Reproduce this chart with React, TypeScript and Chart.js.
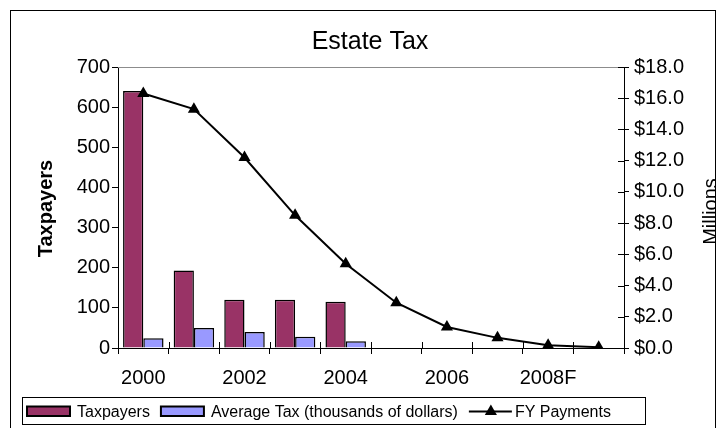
import React, { useEffect, useRef } from "react";
import { Chart, registerables } from "chart.js";

Chart.register(...registerables);

const categories = ["2000", "2001", "2002", "2003", "2004", "2005", "2006", "2007", "2008F", "2009F"];
const taxpayers = [640, 193, 120, 120, 115, null, null, null, null, null];
const averageTax = [24, 50, 40, 28, 17, null, null, null, null, null];
const fyPayments = [16.3, 15.3, 12.2, 8.5, 5.4, 2.9, 1.35, 0.65, 0.18, 0.05];
const leftTicks = { min: 0, max: 700, step: 100 };
const rightTicks = { min: 0, max: 18, step: 2 };

const FONT = "'Liberation Sans', Arial, sans-serif";

const decorPlugin = {
  id: "decor",
  beforeDraw(chart: any) {
    const ctx = chart.ctx;
    ctx.save();
    ctx.fillStyle = "#ffffff";
    ctx.fillRect(0, 0, chart.width, chart.height);
    ctx.restore();
  },
  afterDraw(chart: any) {
    const ctx = chart.ctx;
    const area = chart.chartArea;
    const x = chart.scales.x;
    const y1 = chart.scales.y1;
    ctx.save();
    // outer border
    ctx.strokeStyle = "#000";
    ctx.lineWidth = 1;
    ctx.strokeRect(10.5, 10.5, 705, 440);
    // plot top border
    ctx.strokeStyle = "#8c8c8c";
    ctx.beginPath();
    ctx.moveTo(area.left, area.top + 0.5);
    ctx.lineTo(area.right, area.top + 0.5);
    ctx.stroke();
    // inner ticks on right axis
    ctx.strokeStyle = "#000";
    ctx.lineWidth = 1;
    y1.ticks.forEach((t: any) => {
      const py = Math.round(y1.getPixelForValue(t.value)) + 0.5;
      ctx.beginPath();
      ctx.moveTo(area.right - 6, py);
      ctx.lineTo(area.right, py);
      ctx.stroke();
    });
    // inner ticks on x axis (category boundaries)
    const n = categories.length;
    const half = (x.getPixelForValue(1) - x.getPixelForValue(0)) / 2;
    for (let i = 0; i <= n; i++) {
      const px = Math.round(i < n ? x.getPixelForValue(i) - half : x.getPixelForValue(n - 1) + half) + 0.5;
      ctx.beginPath();
      ctx.moveTo(px, area.bottom - 6);
      ctx.lineTo(px, area.bottom);
      ctx.stroke();
    }
    // title
    ctx.fillStyle = "#000";
    ctx.font = `25px ${FONT}`;
    ctx.textAlign = "center";
    ctx.textBaseline = "alphabetic";
    ctx.fillText("Estate Tax", 370, 48.5);
    // left axis title
    ctx.save();
    ctx.translate(52, 208.5);
    ctx.rotate(-Math.PI / 2);
    ctx.font = `bold 20px ${FONT}`;
    ctx.fillText("Taxpayers", 0, 0);
    ctx.restore();
    // right axis title
    ctx.save();
    ctx.translate(716.5, 211.5);
    ctx.rotate(-Math.PI / 2);
    ctx.font = `20px ${FONT}`;
    ctx.fillText("Millions", 0, 0);
    ctx.restore();
    // legend
    ctx.strokeStyle = "#000";
    ctx.lineWidth = 1;
    ctx.strokeRect(22.5, 397.5, 623, 27);
    ctx.font = `16px ${FONT}`;
    ctx.textAlign = "left";
    const ds = chart.data.datasets;
    let cx = 27;
    const cy = 411.5;
    ds.forEach((d: any) => {
      if (d.type === "line") {
        ctx.strokeStyle = "#000";
        ctx.lineWidth = 2;
        ctx.beginPath();
        ctx.moveTo(cx, cy);
        ctx.lineTo(cx + 43, cy);
        ctx.stroke();
        const r = 7;
        const tx = cx + 22;
        ctx.fillStyle = "#000";
        ctx.beginPath();
        ctx.moveTo(tx, cy - r);
        ctx.lineTo(tx + r * 0.866, cy + r / 2);
        ctx.lineTo(tx - r * 0.866, cy + r / 2);
        ctx.closePath();
        ctx.fill();
        cx += 46;
      } else {
        ctx.fillStyle = d.backgroundColor;
        ctx.fillRect(cx, 406.5, 43, 9.5);
        ctx.strokeStyle = "#000";
        ctx.lineWidth = 2;
        ctx.strokeRect(cx, 406.5, 43, 9.5);
        cx += 50;
      }
      ctx.fillStyle = "#000";
      ctx.fillText(d.label, cx, 417);
      cx += ctx.measureText(d.label).width + 11;
    });
    ctx.restore();
  },
};

export default function App() {
  const ref = useRef<HTMLCanvasElement | null>(null);
  useEffect(() => {
    if (!ref.current) return;
    const chart = new Chart(ref.current, {
      type: "bar",
      data: {
        labels: categories,
        datasets: [
          {
            type: "bar",
            label: "Taxpayers",
            data: taxpayers,
            backgroundColor: "#993366",
            borderColor: "#000",
            borderWidth: 1.5,
            yAxisID: "y",
            order: 1,
            categoryPercentage: 0.8,
            barPercentage: 1.0,
          },
          {
            type: "bar",
            label: "Average Tax (thousands of dollars)",
            data: averageTax,
            backgroundColor: "#9999FF",
            borderColor: "#000",
            borderWidth: 1.5,
            yAxisID: "y",
            order: 1,
            categoryPercentage: 0.8,
            barPercentage: 1.0,
          },
          {
            type: "line",
            label: "FY Payments",
            data: fyPayments,
            borderColor: "#000",
            borderWidth: 2,
            backgroundColor: "#000",
            pointStyle: "triangle",
            pointRadius: 7,
            pointBackgroundColor: "#000",
            pointBorderColor: "#000",
            pointBorderWidth: 0,
            tension: 0,
            yAxisID: "y1",
            order: 0,
          },
        ] as any,
      },
      options: {
        responsive: false,
        maintainAspectRatio: false,
        animation: false,
        layout: { padding: { left: 10, right: 0, top: 67, bottom: 0 } },
        plugins: { legend: { display: false }, title: { display: false }, tooltip: { enabled: false } },
        scales: {
          x: {
            offset: true,
            grid: { offset: true, drawOnChartArea: false, tickLength: 6, color: "#000", lineWidth: 1 },
            border: { color: "#000", width: 1 },
            ticks: {
              autoSkip: false,
              maxRotation: 0,
              color: "#000",
              padding: 12,
              font: { family: FONT, size: 20 },
              callback: (_v: any, i: number) => (i % 2 === 0 ? categories[i] : ""),
            },
            afterFit: (s: any) => { s.height = 80; },
          },
          y: {
            position: "left",
            min: leftTicks.min,
            max: leftTicks.max,
            grid: { drawOnChartArea: false, tickLength: 6, color: "#000" },
            border: { color: "#000", width: 1 },
            ticks: { stepSize: leftTicks.step, color: "#000", padding: 2, font: { family: FONT, size: 20 } },
            afterFit: (s: any) => { s.width = 108; },
          },
          y1: {
            position: "right",
            min: rightTicks.min,
            max: rightTicks.max,
            grid: { drawOnChartArea: false, tickLength: 5, color: "#000" },
            border: { color: "#000", width: 1 },
            ticks: {
              stepSize: rightTicks.step,
              color: "#000",
              padding: 5,
              font: { family: FONT, size: 20 },
              callback: (v: any) => "$" + Number(v).toFixed(1),
            },
            afterFit: (s: any) => { s.width = 92; },
          },
        },
      } as any,
      plugins: [decorPlugin],
    });
    return () => chart.destroy();
  }, []);
  return (
    <div style={{ position: "fixed", left: 0, top: 0, width: 716, height: 428, background: "#fff" }}>
      <canvas ref={ref} width={716} height={428} style={{ width: 716, height: 428, display: "block" }} />
    </div>
  );
}
